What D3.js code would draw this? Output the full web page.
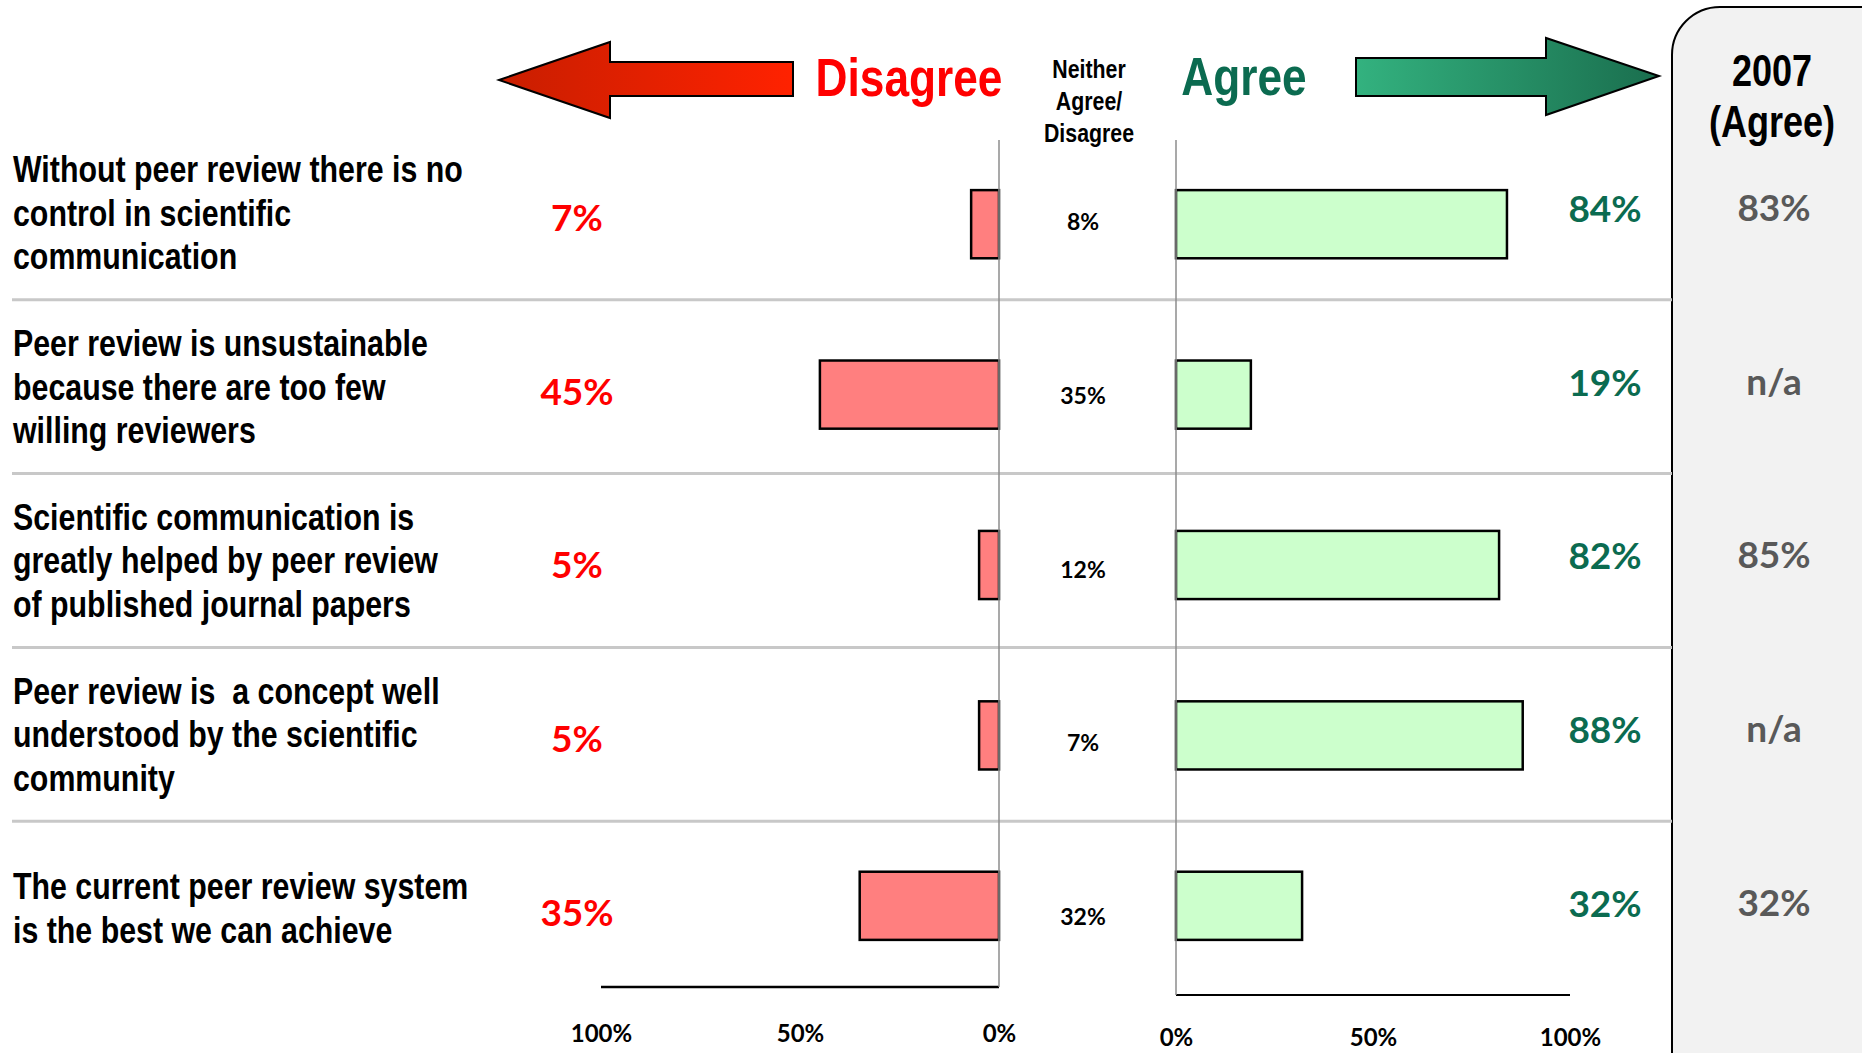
<!DOCTYPE html>
<html>
<head>
<meta charset="utf-8">
<script src="https://cdn.jsdelivr.net/npm/d3@7/dist/d3.min.js"></script>
<style>
  body { margin: 0; background: #fff; }
  svg { display: block; }
</style>
</head>
<body>
<div id="chart"></div>
<script>
// statements, one entry per row (already split into lines)
var categories = [
  ["Without peer review there is no", "control in scientific", "communication"],
  ["Peer review is unsustainable", "because there are too few", "willing reviewers"],
  ["Scientific communication is", "greatly helped by peer review", "of published journal papers"],
  ["Peer review is  a concept well", "understood by the scientific", "community"],
  ["The current peer review system", "is the best we can achieve"]
];

// survey results (%)
var disagree = [7, 45, 5, 5, 35];
var neither = [8, 35, 12, 7, 32];
var agree = [84, 19, 82, 88, 32];
var agree2007 = ["83%", "n/a", "85%", "n/a", "32%"];

// tick labels
var leftTicks = [100, 50, 0];
var rightTicks = [0, 50, 100];

var svgWidth = 1862;
var svgHeight = 1053;

var svg = d3.select("#chart")
  .append("svg")
  .attr("width", svgWidth)
  .attr("height", svgHeight);

// Arial Narrow look-alike: Liberation Sans squeezed horizontally
var labelFont = "'Liberation Sans', Arial, sans-serif";
var squeeze = 0.82;
var numFont = "Lato, 'Open Sans', sans-serif";

function narrowText(x, y, size, anchor, color) {
  return svg.append("g")
    .attr("transform", `translate(${x},${y}) scale(${squeeze},1)`)
    .append("text")
    .attr("text-anchor", anchor)
    .attr("fill", color)
    .style("font-family", labelFont)
    .style("font-weight", "bold")
    .style("font-size", size + "px")
    .style("white-space", "pre");
}

// scales
var idx = d3.range(categories.length);
var rowScale = d3.scaleBand().domain(idx).range([126, 995]);
var barScale = d3.scaleBand().domain(idx).range([139, 991])
  .paddingInner(0.6).paddingOuter(0.3);
var xLeft = d3.scaleLinear().domain([100, 0]).range([601, 999]);
var xRight = d3.scaleLinear().domain([0, 100]).range([1176, 1570]);

var rowMid = function(i) { return rowScale(i) + rowScale.bandwidth() / 2; };

// gradients for the arrows
var defs = svg.append("defs");
var redGrad = defs.append("linearGradient").attr("id", "redGrad");
redGrad.append("stop").attr("offset", "0%").attr("stop-color", "#c81e00");
redGrad.append("stop").attr("offset", "100%").attr("stop-color", "#ff2200");
var greenGrad = defs.append("linearGradient").attr("id", "greenGrad");
greenGrad.append("stop").attr("offset", "0%").attr("stop-color", "#33b27f");
greenGrad.append("stop").attr("offset", "100%").attr("stop-color", "#1a6e4e");

// 2007 panel
svg.append("rect")
  .attr("x", 1672).attr("y", 7)
  .attr("width", 260).attr("height", 1120)
  .attr("rx", 48).attr("ry", 48)
  .attr("fill", "#f2f2f2")
  .attr("stroke", "#000")
  .attr("stroke-width", 2);

narrowText(1772, 86, 44, "middle", "#000").text("2007");
narrowText(1772, 137, 44, "middle", "#000").text("(Agree)");

// row separators
svg.selectAll("line.sep")
  .data(idx.slice(1))
  .enter()
  .append("line")
  .attr("class", "sep")
  .attr("x1", 12).attr("x2", 1672)
  .attr("y1", d => rowScale(d))
  .attr("y2", d => rowScale(d))
  .attr("stroke", "#c8c8c8")
  .attr("stroke-width", 3);

// arrows
svg.append("path")
  .attr("d", "M499,80 L610,42 L610,62 L793,62 L793,96 L610,96 L610,118 Z")
  .attr("fill", "url(#redGrad)")
  .attr("stroke", "#000")
  .attr("stroke-width", 2);
svg.append("path")
  .attr("d", "M1356,58 L1546,58 L1546,38 L1659,76 L1546,115 L1546,96 L1356,96 Z")
  .attr("fill", "url(#greenGrad)")
  .attr("stroke", "#000")
  .attr("stroke-width", 2);

// headers
narrowText(909, 96, 54, "middle", "#ff0000").text("Disagree");
narrowText(1244, 95, 54, "middle", "#0b6b50").text("Agree");
narrowText(1089, 0, 26, "middle", "#000")
  .selectAll("tspan")
  .data(["Neither", "Agree/", "Disagree"])
  .enter()
  .append("tspan")
  .attr("x", 0)
  .attr("y", (d, i) => 78 + i * 32)
  .text(d => d);

// row labels
categories.forEach(function(lines, i) {
  narrowText(13, rowMid(i), 37, "start", "#000")
    .selectAll("tspan")
    .data(lines)
    .enter()
    .append("tspan")
    .attr("x", 0)
    .attr("y", (d, j) => (j - (lines.length - 1) / 2) * 43.5)
    .attr("dy", "0.35em")
    .text(d => d);
});

// axes
var leftAxis = d3.axisBottom(xLeft).tickValues(leftTicks)
  .tickSize(0).tickPadding(38).tickFormat(d => d + "%");
var rightAxis = d3.axisBottom(xRight).tickValues(rightTicks)
  .tickSize(0).tickPadding(34).tickFormat(d => d + "%");

var gl = svg.append("g").attr("transform", "translate(0,987)").call(leftAxis);
var gr = svg.append("g").attr("transform", "translate(0,995)").call(rightAxis);
[gl, gr].forEach(function(g) {
  g.select(".domain").remove();
  g.selectAll("text")
    .style("font-family", numFont).style("font-weight", "bold")
    .style("font-size", "24px")
    .attr("fill", "#000");
});

// axis lines
svg.append("line")
  .attr("x1", xLeft(100)).attr("x2", xLeft(0))
  .attr("y1", 987).attr("y2", 987)
  .attr("stroke", "#000").attr("stroke-width", 2.5);
svg.append("line")
  .attr("x1", xRight(0)).attr("x2", xRight(100))
  .attr("y1", 995).attr("y2", 995)
  .attr("stroke", "#000").attr("stroke-width", 2);

// disagree bars
svg.selectAll("rect.dis")
  .data(disagree)
  .enter()
  .append("rect")
  .attr("class", "dis")
  .attr("x", d => xLeft(d))
  .attr("y", (d, i) => barScale(i))
  .attr("width", d => xLeft(0) - xLeft(d))
  .attr("height", barScale.bandwidth())
  .attr("fill", "#ff7f7f")
  .attr("stroke", "#000")
  .attr("stroke-width", 2.5);

// agree bars
svg.selectAll("rect.agr")
  .data(agree)
  .enter()
  .append("rect")
  .attr("class", "agr")
  .attr("x", xRight(0))
  .attr("y", (d, i) => barScale(i))
  .attr("width", d => xRight(d) - xRight(0))
  .attr("height", barScale.bandwidth())
  .attr("fill", "#ccffcc")
  .attr("stroke", "#000")
  .attr("stroke-width", 2.5);

// vertical zero lines
svg.append("line")
  .attr("x1", xLeft(0)).attr("x2", xLeft(0))
  .attr("y1", 140).attr("y2", 987)
  .attr("stroke", "#8c8c8c").attr("stroke-width", 1.5);
svg.append("line")
  .attr("x1", xRight(0)).attr("x2", xRight(0))
  .attr("y1", 140).attr("y2", 995)
  .attr("stroke", "#8c8c8c").attr("stroke-width", 1.5);

// value labels
function valueLabels(data, x, dy, color, size, fmt) {
  svg.append("g").selectAll("text")
    .data(data)
    .enter()
    .append("text")
    .attr("x", x)
    .attr("y", (d, i) => rowMid(i) + dy)
    .attr("dy", "0.35em")
    .attr("text-anchor", "middle")
    .attr("fill", color)
    .style("font-family", numFont).style("font-weight", "bold")
    .style("font-size", size)
    .text(fmt);
}
valueLabels(disagree, 577, 5, "#ff0000", "37px", d => d + "%");
valueLabels(neither, 1083, 9, "#000", "23px", d => d + "%");
valueLabels(agree, 1605, -4, "#0b6b50", "37px", d => d + "%");
valueLabels(agree2007, 1774, -5, "#595959", "37px", d => d);
</script>
</body>
</html>
